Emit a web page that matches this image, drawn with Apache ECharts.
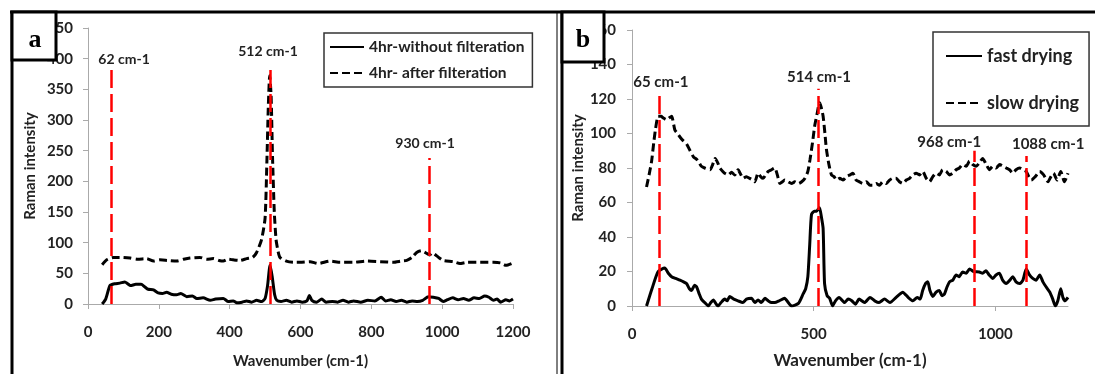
<!DOCTYPE html>
<html>
<head>
<meta charset="utf-8">
<script src="https://cdn.jsdelivr.net/npm/echarts@6/dist/echarts.min.js"></script>
<style>
  html, body { margin: 0; padding: 0; background: #fff; }
  #chart { width: 1095px; height: 374px; }
</style>
</head>
<body>
<div id="chart"></div>
<script>
// panel a: [wavenumber, intensity]
const aWithout = [[40,0],[50,8],[62,30],[75,33],[90,34],[104,36],[112,33],[120,30],[135,32],[150,32],[160,28],[170,24],[185,23],[198,18],[210,17],[222,19],[235,16],[250,15],[262,17],[279,12],[295,13],[307,9],[325,10],[345,6],[360,8],[382,9],[396,4],[410,5],[420,2],[435,3],[448,5],[462,3],[476,6],[490,4],[500,9],[507,30],[514,63],[520,45],[527,15],[533,6],[545,4],[560,6],[575,3],[590,5],[605,3],[618,5],[625,14],[632,6],[645,3],[660,8],[672,3],[690,4],[705,3],[720,6],[735,3],[750,5],[770,3],[790,6],[810,5],[828,11],[840,5],[855,7],[870,4],[885,6],[900,3],[915,5],[930,4],[945,6],[961,12],[975,11],[990,9],[1003,4],[1015,7],[1030,10],[1045,7],[1060,9],[1075,6],[1090,10],[1105,9],[1120,13],[1132,11],[1145,6],[1155,8],[1165,3],[1180,7],[1190,5],[1200,8]];
const aAfter = [[40,64],[53,72],[72,76],[95,76],[119,75],[140,73],[166,74],[185,70],[203,72],[225,71],[250,70],[270,73],[288,75],[316,76],[335,73],[354,74],[370,71],[382,70],[396,73],[410,72],[430,71],[448,74],[465,76],[476,84],[490,105],[500,140],[505,230],[509,320],[513,372],[517,340],[521,240],[526,150],[531,105],[537,85],[542,76],[560,70],[580,68],[599,68],[627,69],[650,66],[684,70],[712,68],[750,68],[787,70],[825,69],[862,68],[885,70],[900,71],[915,76],[928,84],[941,87],[952,84],[965,80],[972,83],[990,76],[1003,71],[1031,69],[1050,66],[1070,68],[1107,68],[1145,68],[1165,67],[1180,63],[1200,67]];
const aPeakPos = [65, 514, 963];
const aPeakTop = [390, 390, 238];
const aPeakText = ['62 cm-1', '512 cm-1', '930 cm-1'];

// panel b: [wavenumber, intensity]
const bFast = [[40,0],[55,10],[72,20],[90,22],[100,19],[109,17],[120,16],[132,15],[142,14],[150,13],[158,10],[164,9],[172,12],[178,11],[185,7],[191,4],[200,2],[210,0],[217,2],[224,3.5],[232,1],[237,0],[245,2],[255,4],[262,3],[269,5.5],[280,4],[292,3],[305,2],[315,4],[329,4.5],[338,2],[347,3.5],[356,2],[366,4.5],[375,3],[384,2],[393,2],[405,3],[420,4.5],[430,2],[439,0],[458,1.5],[471,7],[478,10],[484,17],[489,35],[494,53],[502,55],[508,55],[516,57],[521,52],[526,45],[530,13],[537,6],[544,4.5],[552,0],[560,3],[570,5],[585,2],[595,4],[605,3],[615,1],[625,4],[640,2],[655,5],[668,3],[680,2],[695,4],[710,2],[727,5],[738,7],[745,8],[760,5],[773,3],[785,5],[793,4],[800,9],[808,13],[814,14],[820,9],[828,5.5],[837,8],[846,9],[853,6],[860,7],[867,11],[874,14],[883,15],[892,18],[900,17],[910,19.7],[920,19],[929,21.5],[940,20],[956,19.7],[965,19],[974,20.5],[983,18],[993,16],[1002,18],[1011,19],[1020,15],[1030,13],[1040,15],[1048,17],[1057,14],[1067,13],[1076,15],[1085,21.5],[1094,18],[1103,16],[1112,15],[1122,18],[1131,14],[1140,11],[1150,8],[1158,4],[1165,0],[1172,3],[1180,10],[1186,5],[1192,3],[1200,5]];
const bSlow = [[40,69],[47,76],[54,84],[60,95],[65,103],[72,110],[80,110],[86,109],[95,108],[102,109],[109,110],[118,102],[125,100],[132,98],[140,96],[150,94],[160,90],[169,86.5],[178,85],[185,83],[191,81],[200,80],[215,79],[222,82],[229,85.5],[236,83],[242,80],[250,78],[255,77],[265,76],[274,77.5],[283,76],[292,79],[300,76],[306,74],[315,75],[324,74],[332,73],[338,72],[347,77],[354,75],[361,74],[368,76],[375,78],[384,79],[393,80],[400,76],[407,71],[414,72],[420,73],[430,72],[439,71],[448,72],[458,71],[467,72],[476,74],[484,78],[490,85],[497,95],[503,104.6],[510,112],[516,118],[521,115],[526,110],[531,100],[535,91],[542,82],[549,76],[556,75],[563,73],[572,74],[581,73],[590,75],[600,76],[608,77],[617,73],[626,72],[635,71],[645,72],[655,70],[663,70],[672,71],[681,70],[690,72],[700,71],[709,73],[718,74],[727,74],[736,72],[745,71],[755,73],[764,74],[773,76],[782,77],[791,76],[800,78],[810,74],[819,72],[828,75],[837,77],[846,76],[855,79],[865,78],[874,76],[883,77],[892,79],[901,80],[910,82],[920,81],[929,84],[938,82],[947,81],[956,83],[965,85.5],[975,82],[984,79],[993,81],[1002,80],[1012,82],[1021,81],[1030,80],[1039,79],[1048,77],[1057,79],[1067,80],[1076,79],[1085,78],[1092,75],[1099,73],[1110,75],[1122,78],[1133,76],[1145,72],[1153,75],[1160,77],[1170,73],[1180,78],[1190,72],[1200,77]];
const bPeakPos = [74, 512, 942, 1085];
const bPeakTop = [124, 126, 90, 87];
const bPeakText = ['65 cm-1', '514 cm-1', '968 cm-1', '1088 cm-1'];

const FONT = 'Lato, "Noto Sans", sans-serif';
const INK = '#222';

// label nudges in px, per peak
const aOffsets = [[13, 3], [-2, -5], [-4, -7]];
const bOffsets = [[2, -2], [1, -3], [-25, -1], [22, -4]];

function peakLines(pos, top, text, offsets, size) {
  return {
    silent: true,
    symbol: ['none', 'none'],
    lineStyle: { color: '#ff0000', width: 2.5, type: [18, 6] },
    data: pos.map((x, i) => {
      const label = {
        show: true, position: 'end', distance: 0, formatter: text[i],
        offset: offsets[i], color: INK, fontFamily: FONT, fontWeight: 'bold',
        fontSize: size, lineHeight: 16
      };
      return [{ coord: [x, 0], label: label }, { coord: [x, top[i]], label: label }];
    })
  };
}

function axisCommon(size, margin) {
  return {
    axisLine: { show: true, lineStyle: { color: '#aaa', width: 1 } },
    axisTick: { show: true, length: 5, lineStyle: { color: '#aaa' } },
    splitLine: { show: false },
    axisLabel: { color: INK, fontFamily: FONT, fontWeight: 'bold', fontSize: size,
      margin: margin, formatter: v => String(v) },
    nameTextStyle: { color: INK, fontFamily: FONT, fontWeight: 'bold' }
  };
}

const chart = echarts.init(document.getElementById('chart'));

function lineSeries(name, data, dashed, xi) {
  return {
    name: name, type: 'line', xAxisIndex: xi, yAxisIndex: xi,
    data: data, showSymbol: false, symbol: 'none', smooth: 0.2,
    lineStyle: { color: '#000', width: 3, type: dashed ? [8, 4] : 'solid' },
    itemStyle: { color: '#000' }
  };
}

const sA1 = lineSeries('4hr-without filteration', aWithout, false, 0);
const sA2 = lineSeries('4hr- after filteration', aAfter, true, 0);
sA1.markLine = peakLines(aPeakPos, aPeakTop, aPeakText, aOffsets, 14);
const sB1 = lineSeries('fast drying', bFast, false, 1);
const sB2 = lineSeries('slow drying', bSlow, true, 1);
sB1.markLine = peakLines(bPeakPos, bPeakTop, bPeakText, bOffsets, 15);

const xa = axisCommon(15, 21), ya = axisCommon(15, 15), xb = axisCommon(15, 21), yb = axisCommon(15, 16);
xb.axisLabel.showMaxLabel = false;

const noDot = { color: 'transparent', borderColor: 'transparent', borderWidth: 0 };

chart.setOption({
  animation: false,
  grid: [
    { left: 88, top: 28, right: 582, bottom: 70 },
    { left: 632, top: 30, right: 27, bottom: 65 }
  ],
  xAxis: [
    Object.assign(xa, { type: 'value', gridIndex: 0, min: 0, max: 1200, interval: 200,
      name: 'Wavenumber (cm-1)', nameLocation: 'middle', nameGap: 50,
      nameTextStyle: Object.assign(xa.nameTextStyle, { fontSize: 15 }) }),
    Object.assign(xb, { type: 'value', gridIndex: 1, min: 0, max: 1200, interval: 500,
      name: 'Wavenumber (cm-1)', nameLocation: 'middle', nameGap: 46,
      nameTextStyle: Object.assign(xb.nameTextStyle, { fontSize: 17 }) })
  ],
  yAxis: [
    Object.assign(ya, { type: 'value', gridIndex: 0, min: 0, max: 450, interval: 50,
      name: 'Raman intensity', nameLocation: 'middle', nameGap: 50,
      nameTextStyle: Object.assign(ya.nameTextStyle, { fontSize: 15 }) }),
    Object.assign(yb, { type: 'value', gridIndex: 1, min: 0, max: 160, interval: 20,
      name: 'Raman intensity', nameLocation: 'middle', nameGap: 46,
      nameTextStyle: Object.assign(yb.nameTextStyle, { fontSize: 15 }) })
  ],
  legend: [
    {
      data: ['4hr-without filteration', '4hr- after filteration'],
      orient: 'vertical', left: 324, top: 33, itemWidth: 34, itemHeight: 14, itemGap: 10,
      padding: [6, 8, 6, 5], borderColor: '#333', borderWidth: 1.5, backgroundColor: '#fff',
      itemStyle: noDot,
      textStyle: { color: INK, fontFamily: FONT, fontWeight: 'bold', fontSize: 15.5 }
    },
    {
      data: ['fast drying', 'slow drying'],
      orient: 'vertical', left: 933, top: 32, itemWidth: 36, itemHeight: 14, itemGap: 29,
      padding: [15, 10, 14, 12], borderColor: '#333', borderWidth: 1.5, backgroundColor: '#fff',
      itemStyle: noDot,
      textStyle: { color: INK, fontFamily: FONT, fontWeight: 'bold', fontSize: 18 }
    }
  ],
  graphic: [
    { type: 'line', z: 100, shape: { x1: 10, y1: 12, x2: 1095, y2: 12 }, style: { stroke: '#000', lineWidth: 3 } },
    { type: 'line', z: 100, shape: { x1: 12, y1: 12, x2: 12, y2: 374 }, style: { stroke: '#000', lineWidth: 3 } },
    { type: 'line', z: 100, shape: { x1: 557, y1: 12, x2: 557, y2: 374 }, style: { stroke: '#000', lineWidth: 1 } },
    { type: 'line', z: 100, shape: { x1: 562, y1: 12, x2: 562, y2: 374 }, style: { stroke: '#000', lineWidth: 3 } },
    { type: 'rect', z: 100, shape: { x: 12, y: 12, width: 44, height: 48 }, style: { fill: '#fff', stroke: '#000', lineWidth: 3 } },
    { type: 'text', z: 101, x: 35, y: 40, style: { text: 'a', fill: '#000', font: 'bold 26px "Liberation Serif", serif', align: 'center', verticalAlign: 'middle' } },
    { type: 'rect', z: 100, shape: { x: 562, y: 12, width: 42, height: 50 }, style: { fill: '#fff', stroke: '#000', lineWidth: 3 } },
    { type: 'text', z: 101, x: 583, y: 40, style: { text: 'b', fill: '#000', font: 'bold 26px "Liberation Serif", serif', align: 'center', verticalAlign: 'middle' } }
  ],
  series: [sA1, sA2, sB1, sB2]
});
</script>
</body>
</html>
